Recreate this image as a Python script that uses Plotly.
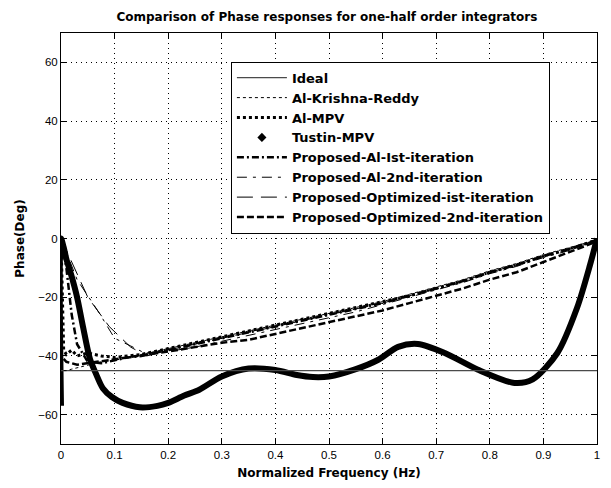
import plotly.graph_objects as go

# ---- data ----
ideal_f = [0, 1]
ideal_v = [-45, -45]

akr_f = [0.005, 0.01, 0.02, 0.03, 0.05, 0.075, 0.1, 0.125, 0.15, 0.2, 0.25, 0.3, 0.35, 0.4, 0.45, 0.5,
         0.55, 0.6, 0.65, 0.7, 0.75, 0.8, 0.85, 0.9, 0.95, 1.0]
akr_v = [-45, -45, -44.5, -44, -43, -42, -41.5, -40.5, -39.5, -37.5, -35.5, -33.5, -31.5, -29.5, -27.5, -25.5,
         -23.5, -21.5, -19, -16.5, -14, -11, -8.5, -5.5, -3, -0.5]

ampv_f = [0, 0.005, 0.01, 0.02, 0.03, 0.05, 0.075, 0.1, 0.125, 0.15, 0.2, 0.25, 0.3, 0.35, 0.4, 0.45, 0.5,
          0.55, 0.6, 0.65, 0.7, 0.75, 0.8, 0.85, 0.9, 0.95, 1.0]
ampv_v = [0, -38, -39.5, -38, -40, -39, -40, -40.5, -40, -39.5, -37.5, -35.5, -33.5, -31.5, -29.5, -27.5, -25.5,
          -23.5, -21.5, -19.5, -17, -14.5, -11.5, -9, -6, -3.5, -0.5]

tus_f = [0, 0, 0.005, 0.01, 0.02, 0.03, 0.041, 0.054, 0.065, 0.078, 0.095, 0.115, 0.147, 0.18, 0.2, 0.23,
         0.258, 0.3, 0.35, 0.4, 0.44, 0.47, 0.5, 0.55, 0.592, 0.629, 0.666, 0.716, 0.777, 0.846, 0.88, 0.926,
         0.963, 0.987, 1.0]
tus_v = [-57, 0, -3, -7, -13, -20, -30, -41, -46, -51, -54, -56, -57.5, -57, -56, -53.5,
         -51.5, -47, -44.3, -44.8, -46.5, -47.2, -47, -44.5, -41.3, -36.9, -35.9, -39, -44.6, -49.2, -48, -39,
         -23.5, -9, 0]

pa1_f = [0, 0.01, 0.02, 0.03, 0.05, 0.075, 0.1, 0.125, 0.15, 0.2, 0.25, 0.3, 0.35, 0.4, 0.45, 0.5,
         0.55, 0.6, 0.65, 0.7, 0.75, 0.8, 0.85, 0.9, 0.95, 1.0]
pa1_v = [0, -10, -26, -36, -42, -42.5, -41.5, -40.5, -40, -38, -36, -34, -32, -30, -28, -26,
         -24, -22, -19.5, -17, -14.5, -11.5, -9, -6, -3.5, -0.5]

pa2_f = [0, 0.03, 0.07, 0.1, 0.13, 0.156, 0.2, 0.25, 0.3, 0.35, 0.4, 0.45, 0.5,
         0.55, 0.6, 0.65, 0.7, 0.75, 0.8, 0.85, 0.9, 0.95, 1.0]
pa2_v = [0, -14, -25, -34, -36.6, -39, -38.5, -37, -35, -33, -31, -29, -27,
         -25, -22.5, -20, -17.5, -15, -12, -9.5, -6.5, -4, -0.5]

po1_f = [0, 0.02, 0.05, 0.09, 0.13, 0.16, 0.2, 0.25, 0.3, 0.35, 0.4, 0.45, 0.5,
         0.55, 0.6, 0.65, 0.7, 0.75, 0.8, 0.85, 0.9, 0.95, 1.0]
po1_v = [0, -8, -20, -30, -37, -40, -38, -36, -34, -32, -30, -28, -26,
         -24, -22, -19.5, -17, -14.5, -11.5, -9, -6, -3.5, -0.5]

po2_f = [0.005, 0.01, 0.03, 0.05, 0.1, 0.15, 0.2, 0.25, 0.3, 0.35, 0.4, 0.45, 0.5,
         0.55, 0.6, 0.65, 0.7, 0.75, 0.8, 0.85, 0.9, 0.95, 1.0]
po2_v = [-41, -42, -43, -42.5, -41, -40, -38.5, -37, -35.5, -34.5, -32.5, -30.5, -28.5,
         -26.5, -24.5, -22, -19.5, -17, -14, -11.5, -8, -4.5, -1]

x_ticks = [0, 0.1, 0.2, 0.3, 0.4, 0.5, 0.6, 0.7, 0.8, 0.9, 1]
x_tick_text = ["0", "0.1", "0.2", "0.3", "0.4", "0.5", "0.6", "0.7", "0.8", "0.9", "1"]
y_ticks = [-60, -40, -20, 0, 20, 40, 60]

FONT = "Liberation Sans, Arial, sans-serif"
WFONT = "DejaVu Sans, Verdana, sans-serif"

fig = go.Figure()

# Tustin drawn as a thick smooth curve; legend shows diamond marker only
fig.add_trace(go.Scatter(x=tus_f, y=tus_v, mode="lines",
                         line=dict(color="black", width=6, shape="spline", smoothing=0.8),
                         showlegend=False, hoverinfo="skip"))

fig.add_trace(go.Scatter(x=ideal_f, y=ideal_v, mode="lines", name="<b>Ideal</b>",
                         line=dict(color="#4a4a4a", width=1.2)))
fig.add_trace(go.Scatter(x=akr_f, y=akr_v, mode="lines", name="<b>Al-Krishna-Reddy</b>",
                         line=dict(color="black", width=1, dash="3px,3px")))
fig.add_trace(go.Scatter(x=ampv_f, y=ampv_v, mode="lines", name="<b>Al-MPV</b>",
                         line=dict(color="black", width=3, dash="3px,3px")))
fig.add_trace(go.Scatter(x=[None], y=[None], mode="markers", name="<b>Tustin-MPV</b>",
                         marker=dict(symbol="diamond", size=7, color="black")))
fig.add_trace(go.Scatter(x=pa1_f, y=pa1_v, mode="lines", name="<b>Proposed-Al-Ist-iteration</b>",
                         line=dict(color="black", width=2.5, dash="7px,3px,2px,3px")))
fig.add_trace(go.Scatter(x=pa2_f, y=pa2_v, mode="lines", name="<b>Proposed-Al-2nd-iteration</b>",
                         line=dict(color="black", width=1, dash="10px,6px,3px,6px")))
fig.add_trace(go.Scatter(x=po1_f, y=po1_v, mode="lines", name="<b>Proposed-Optimized-ist-iteration</b>",
                         line=dict(color="black", width=1, dash="16px,8px")))
fig.add_trace(go.Scatter(x=po2_f, y=po2_v, mode="lines", name="<b>Proposed-Optimized-2nd-iteration</b>",
                         line=dict(color="black", width=2.5, dash="7px,3px")))

axis_common = dict(showline=True, linecolor="black", linewidth=1, mirror="ticks",
                   ticks="inside", ticklen=5, tickcolor="black",
                   showgrid=True, gridcolor="black", gridwidth=1, griddash="1px,4px",
                   zeroline=False,
                   tickfont=dict(family=FONT, size=11.5, color="black"))

fig.update_xaxes(range=[0, 1], tickvals=x_ticks, ticktext=x_tick_text,
                 title=dict(text="<b>Normalized Frequency (Hz)</b>", font=dict(family=WFONT, size=12, color="black"),
                            standoff=8),
                 **axis_common)
fig.update_yaxes(range=[-70, 70], tickvals=y_ticks,
                 title=dict(text="<b>Phase(Deg)</b>", font=dict(family=WFONT, size=12, color="black"),
                            standoff=10),
                 **axis_common)

fig.update_layout(
    width=611, height=488,
    margin=dict(l=61, r=11, t=33, b=40),
    paper_bgcolor="white", plot_bgcolor="white",
    font=dict(family=FONT, size=11, color="black"),
    title=dict(text="<b>Comparison of Phase responses for one-half order integrators</b>",
               x=0.535, xanchor="center", y=0.965, yanchor="middle",
               font=dict(family=WFONT, size=12, color="black")),
    legend=dict(x=0.317, y=0.93, xanchor="left", yanchor="top",
                bgcolor="white", bordercolor="black", borderwidth=1,
                font=dict(family=WFONT, size=13, color="black"),
                tracegroupgap=0, itemwidth=50),
    showlegend=True,
)

# bold tick labels
fig.update_xaxes(tickprefix="<b>", ticksuffix="</b>")
fig.update_yaxes(tickprefix="<b>", ticksuffix="</b>")

fig.write_html("out.html")
